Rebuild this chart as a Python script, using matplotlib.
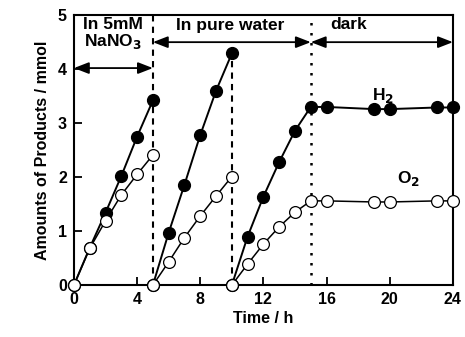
import matplotlib
matplotlib.use("Agg")
import matplotlib.pyplot as plt

plt.rcParams['font.family'] = ['Liberation Sans', 'DejaVu Sans']
plt.rcParams['font.weight'] = 'bold'

# Segment 1: in 5 mM NaNO3
t1 = [0, 1, 2, 3, 4, 5]
h2_1 = [0, 0.69, 1.34, 2.02, 2.75, 3.42]
o2_1 = [0, 0.68, 1.19, 1.67, 2.05, 2.41]
# Segment 2: in pure water
t2 = [5, 6, 7, 8, 9, 10]
h2_2 = [0, 0.97, 1.86, 2.78, 3.60, 4.29]
o2_2 = [0, 0.43, 0.88, 1.28, 1.65, 2.01]
# Segment 3: in pure water then dark
t3 = [10, 11, 12, 13, 14, 15, 16, 19, 20, 23, 24]
h2_3 = [0, 0.90, 1.64, 2.28, 2.86, 3.30, 3.30, 3.26, 3.26, 3.29, 3.29]
o2_3 = [0, 0.39, 0.76, 1.08, 1.35, 1.56, 1.56, 1.54, 1.54, 1.56, 1.56]

xticks = [0, 4, 8, 12, 16, 20, 24]
yticks = [0, 1, 2, 3, 4, 5]

fig = plt.figure(figsize=(4.65, 3.37), dpi=100)
ax = fig.add_axes([0.159, 0.154, 0.815, 0.801])

ms = 8.5
for t, h, o in [(t1, h2_1, o2_1), (t2, h2_2, o2_2), (t3, h2_3, o2_3)]:
    ax.plot(t, h, '-o', color='black', lw=1.4, ms=ms, mfc='black', mec='black', zorder=3, clip_on=False)
    ax.plot(t, o, '-o', color='black', lw=1.1, ms=ms, mfc='white', mec='black', mew=0.9, zorder=4, clip_on=False)

# vertical separators
ax.plot([5, 5], [0, 5], ls=(0, (3, 2.5)), color='black', lw=1.5, zorder=2)
ax.plot([10, 10], [0, 4.2], ls=(0, (3, 2.5)), color='black', lw=1.5, zorder=2)
ax.plot([15, 15], [0, 5], ls=(0, (1, 3)), color='black', lw=1.8, zorder=2)

arrow = dict(arrowstyle='<|-|>,head_length=0.9,head_width=0.35', color='black', lw=1.3,
             shrinkA=0, shrinkB=0)
ax.annotate('', xy=(0, 4.02), xytext=(5, 4.02), arrowprops=arrow)
ax.annotate('', xy=(5, 4.5), xytext=(15, 4.5), arrowprops=arrow)
ax.annotate('', xy=(15, 4.5), xytext=(24, 4.5), arrowprops=arrow)

fs = 12.5
ax.text(2.5, 4.97, 'In 5mM\nNaNO$_\\mathbf{3}$', ha='center', va='top', fontsize=fs, fontweight='bold', linespacing=1.0)
ax.text(9.9, 4.95, 'In pure water', ha='center', va='top', fontsize=fs, fontweight='bold')
ax.text(17.4, 4.97, 'dark', ha='center', va='top', fontsize=fs, fontweight='bold')
ax.text(19.6, 3.52, 'H$_\\mathbf{2}$', ha='center', va='center', fontsize=fs, fontweight='bold')
ax.text(21.2, 1.98, 'O$_\\mathbf{2}$', ha='center', va='center', fontsize=fs, fontweight='bold')

ax.set_xlim(0, 24)
ax.set_ylim(0, 5)
ax.set_xticks(xticks)
ax.set_yticks(yticks)
ax.tick_params(direction='in', length=6, width=1.3, labelsize=11.5, pad=5)
for lab in ax.get_xticklabels() + ax.get_yticklabels():
    lab.set_fontweight('bold')
for s in ax.spines.values():
    s.set_linewidth(1.5)

ax.set_xlabel('Time / h', fontsize=11.5, fontweight='bold', labelpad=3)
ax.set_ylabel('Amounts of Products / mmol', fontsize=11.5, fontweight='bold', labelpad=6)

fig.savefig('out.png', dpi=100)
